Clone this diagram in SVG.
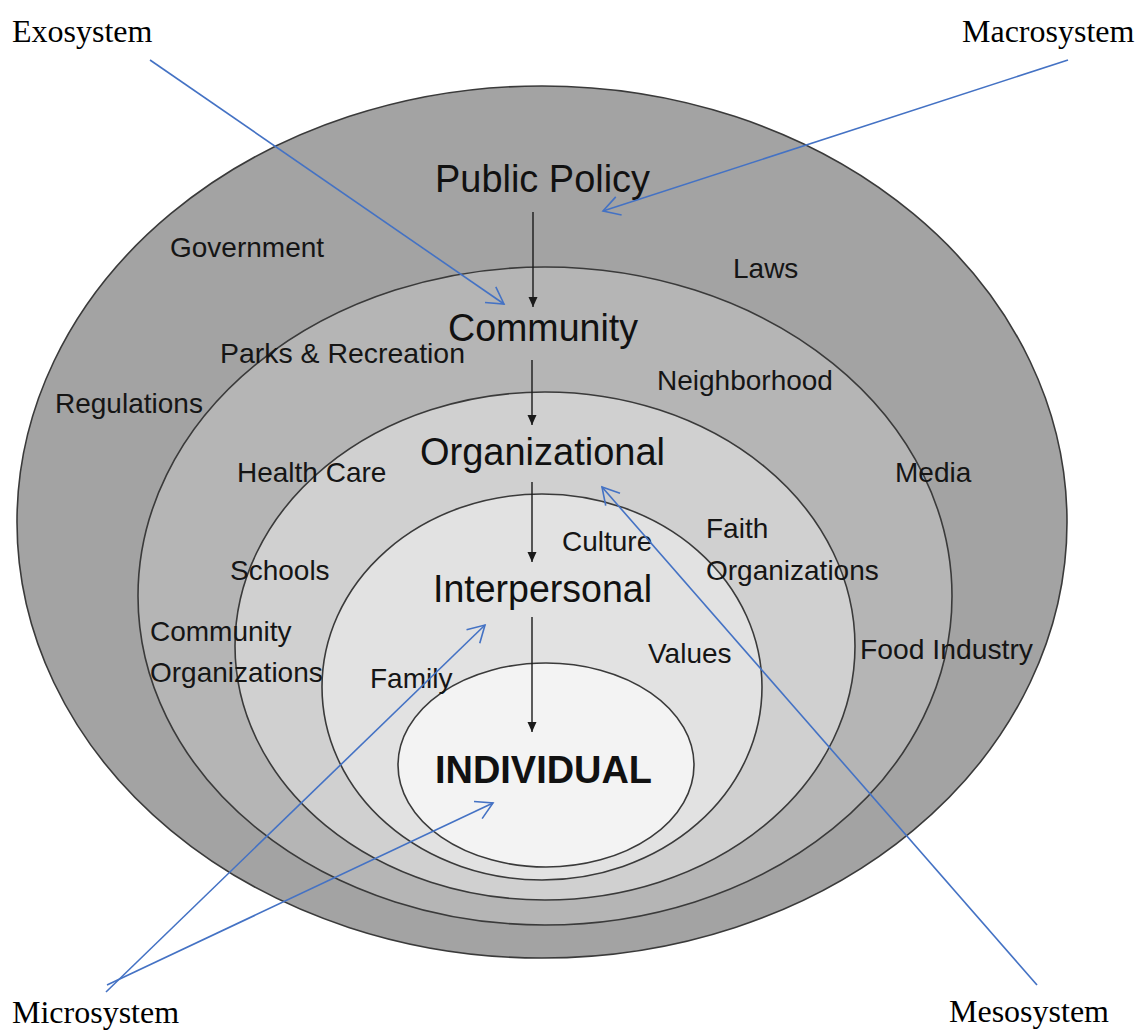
<svg xmlns="http://www.w3.org/2000/svg" width="1138" height="1030" viewBox="0 0 1138 1030">
  <style>
    .ring { stroke: #3a3a3a; stroke-width: 1.6; }
    .lvl { font-family: "Liberation Sans", Arial, sans-serif; font-size: 38px; fill: #111; }
    .lbl { font-family: "Liberation Sans", Arial, sans-serif; font-size: 28px; fill: #151515; }
    .sys { font-family: "Liberation Serif", "Times New Roman", serif; font-size: 32px; fill: #000; }
    .flow { stroke: #1a1a1a; stroke-width: 1.4; fill: none; }
    .ptr { stroke: #4472c4; stroke-width: 1.6; fill: none; }
  </style>
  <defs>
    <marker id="down" markerUnits="userSpaceOnUse" markerWidth="12" markerHeight="12" viewBox="-11 -6 12 12" refX="0" refY="0" orient="auto" overflow="visible">
      <path d="M-10,-4.5 L0,0 L-10,4.5 Z" fill="#1a1a1a"/>
    </marker>
    <marker id="open" markerUnits="userSpaceOnUse" markerWidth="24" markerHeight="24" viewBox="-20 -12 22 24" refX="0" refY="0" orient="auto" overflow="visible">
      <path d="M-16.5,-9.5 L0,0 L-16.5,9.5" fill="none" stroke="#4472c4" stroke-width="1.6"/>
    </marker>
  </defs>
  <rect width="1138" height="1030" fill="#ffffff"/>

  <!-- nested levels, outermost first -->
  <g id="rings">
    <ellipse id="ring-public-policy" class="ring" cx="542" cy="522" rx="525" ry="436" fill="#a3a3a3"/>
    <ellipse id="ring-community" class="ring" cx="545" cy="596" rx="407" ry="329" fill="#b5b5b5"/>
    <ellipse id="ring-organizational" class="ring" cx="545" cy="646" rx="310" ry="254" fill="#d0d0d0"/>
    <ellipse id="ring-interpersonal" class="ring" cx="542" cy="687" rx="220" ry="193" fill="#e2e2e2"/>
    <ellipse id="ring-individual" class="ring" cx="546" cy="765" rx="148" ry="102" fill="#f3f3f3"/>
  </g>

  <g id="public-policy">
    <text class="lvl" x="435" y="192" textLength="215" lengthAdjust="spacingAndGlyphs">Public Policy</text>
    <text class="lbl" x="170" y="257">Government</text>
    <text class="lbl" x="733" y="278">Laws</text>
    <text class="lbl" x="55" y="413">Regulations</text>
    <text class="lbl" x="895" y="482">Media</text>
    <text class="lbl" x="860" y="659" textLength="173" lengthAdjust="spacingAndGlyphs">Food Industry</text>
  </g>
  <g id="community">
    <text class="lvl" x="448" y="341" textLength="190" lengthAdjust="spacingAndGlyphs">Community</text>
    <text class="lbl" x="220" y="363" textLength="245" lengthAdjust="spacingAndGlyphs">Parks &amp; Recreation</text>
    <text class="lbl" x="657" y="390">Neighborhood</text>
    <text class="lbl" x="706" y="538">Faith</text>
    <text class="lbl" x="706" y="580">Organizations</text>
    <text class="lbl" x="150" y="641">Community</text>
    <text class="lbl" x="150" y="682">Organizations</text>
  </g>
  <g id="organizational">
    <text class="lvl" x="420" y="465" textLength="245" lengthAdjust="spacingAndGlyphs">Organizational</text>
    <text class="lbl" x="237" y="482">Health Care</text>
    <text class="lbl" x="230" y="580">Schools</text>
  </g>
  <g id="interpersonal">
    <text class="lvl" x="433" y="602" textLength="219" lengthAdjust="spacingAndGlyphs">Interpersonal</text>
    <text class="lbl" x="562" y="551">Culture</text>
    <text class="lbl" x="648" y="663">Values</text>
    <text class="lbl" x="370" y="688">Family</text>
  </g>
  <g id="individual">
    <text class="lvl" x="435" y="783" font-weight="bold" font-size="42" textLength="217" lengthAdjust="spacingAndGlyphs">INDIVIDUAL</text>
  </g>

  <!-- system names -->
  <g id="exosystem"><text class="sys" x="12" y="42">Exosystem</text></g>
  <g id="macrosystem"><text class="sys" x="962" y="42">Macrosystem</text></g>
  <g id="microsystem"><text class="sys" x="12" y="1023">Microsystem</text></g>
  <g id="mesosystem"><text class="sys" x="949" y="1022">Mesosystem</text></g>

  <g id="connectors">
    <!-- downward flow between levels -->
    <line class="flow" x1="533" y1="212" x2="533" y2="307" marker-end="url(#down)"/>
    <line class="flow" x1="532" y1="360" x2="532" y2="425" marker-end="url(#down)"/>
    <line class="flow" x1="532" y1="482" x2="532" y2="562" marker-end="url(#down)"/>
    <line class="flow" x1="532" y1="617" x2="532" y2="732" marker-end="url(#down)"/>
    <!-- system pointers -->
    <line class="ptr" x1="150" y1="60" x2="504" y2="304" marker-end="url(#open)"/>
    <line class="ptr" x1="1068" y1="60" x2="603" y2="211" marker-end="url(#open)"/>
    <line class="ptr" x1="1037" y1="985" x2="602" y2="487" marker-end="url(#open)"/>
    <line class="ptr" x1="106" y1="992" x2="485" y2="625" marker-end="url(#open)"/>
    <line class="ptr" x1="107" y1="985" x2="493" y2="803" marker-end="url(#open)"/>
  </g>
</svg>
